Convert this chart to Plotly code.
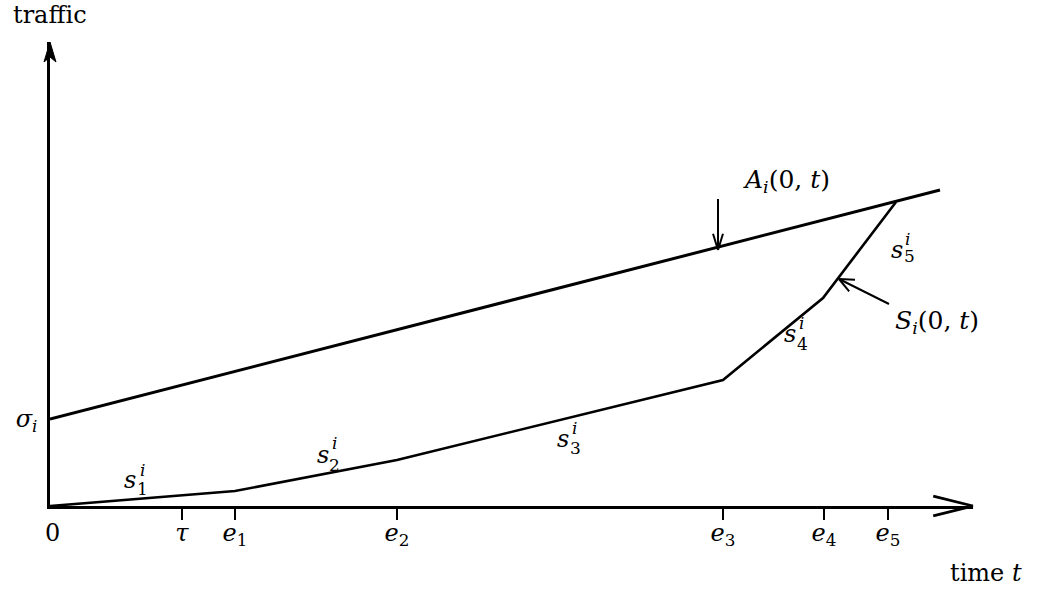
import math
import plotly.graph_objects as go

# ---------------- data (schematic units) ----------------
tick_x = [132, 185, 347, 673, 774, 838]
tick_text = ["<i>τ</i>", "<i>e</i><sub>1</sub>", "<i>e</i><sub>2</sub>",
             "<i>e</i><sub>3</sub>", "<i>e</i><sub>4</sub>", "<i>e</i><sub>5</sub>"]
sigma_i = 87
arrival_t = [0, 890]
arrival_v = [87, 316]
service_t = [0, 185, 347, 673, 773, 846]
service_v = [0, 15, 46, 126, 208, 304]
slope_idx = ["1", "2", "3", "4", "5"]

# ---------------- layout constants ----------------
W, H = 1040, 605
L, R, T, B = 50, 67, 42, 99
PW, PH = W - L - R, H - T - B
X_RANGE = [0, PW]
Y_RANGE = [0, PH]
FONT = "DejaVu Serif"
BLACK = "#000000"


def px2d(px, py):
    return px - L, (H - B) - py


def dx(x):
    return (x - X_RANGE[0]) / (X_RANGE[1] - X_RANGE[0])


def dy(y):
    return (y - Y_RANGE[0]) / (Y_RANGE[1] - Y_RANGE[0])


def px2paper(px, py):
    return (px - L) / PW, ((H - B) - py) / PH


def seg(x0, y0, x1, y1, w=2.0):
    return dict(type="line", xref="x domain", yref="y domain",
                x0=dx(x0), y0=dy(y0), x1=dx(x1), y1=dy(y1),
                line=dict(color=BLACK, width=w), layer="above")


def chevron(tip, frm, length, ang_deg, w=2.0):
    vx, vy = frm[0] - tip[0], frm[1] - tip[1]
    n = math.hypot(vx, vy)
    ux, uy = vx / n, vy / n
    out = []
    for s in (1, -1):
        a = math.radians(ang_deg) * s
        rx = ux * math.cos(a) - uy * math.sin(a)
        ry = ux * math.sin(a) + uy * math.cos(a)
        out.append(seg(tip[0], tip[1], tip[0] + rx * length, tip[1] + ry * length, w))
    return out


fig = go.Figure()
fig.add_trace(go.Scatter(x=arrival_t, y=arrival_v, mode="lines",
                         line=dict(color=BLACK, width=3), hoverinfo="skip"))
fig.add_trace(go.Scatter(x=service_t, y=service_v, mode="lines",
                         line=dict(color=BLACK, width=2.6), hoverinfo="skip"))

shapes = []
# x-axis arrowhead (open, long)
shapes += chevron((PW, 0), (0, 0), 41, 14, 2.8)
# y-axis arrowhead (filled stealth)
ya = [(0, PH), (-6, PH - 20), (0, PH - 15), (6, PH - 20)]
path = "M " + " L ".join(f"{dx(a):.5f},{dy(b):.5f}" for a, b in ya) + " Z"
shapes.append(dict(type="path", xref="x domain", yref="y domain", path=path,
                   fillcolor=BLACK, line=dict(color=BLACK, width=1), layer="above"))
# pointer for A_i(0,t)
a0 = px2d(718, 199)
a1 = px2d(718, 250)
shapes.append(seg(a0[0], a0[1], a1[0], a1[1], 2))
shapes += chevron(a1, a0, 17, 17, 2)
# pointer for S_i(0,t)
s0 = px2d(889, 304)
s1 = px2d(839, 279)
shapes.append(seg(s0[0], s0[1], s1[0], s1[1], 2))
shapes += chevron(s1, s0, 16, 24, 2)

ann = []


def text_px(px, py, txt, size=24, ref="data"):
    if ref == "data":
        x, y = px2d(px, py)
        xr, yr = "x", "y"
    else:
        x, y = px2paper(px, py)
        xr, yr = "paper", "paper"
    ann.append(dict(x=x, y=y, xref=xr, yref=yr, text=txt, showarrow=False,
                    xanchor="center", yanchor="middle",
                    font=dict(family=FONT, size=size, color=BLACK)))


# slope labels s_k^i
s_body_px = [(130, 480), (323, 455), (563, 439), (790, 334), (897, 250)]
s_sub_px = [(142, 489), (334, 465), (575, 448), (802, 344), (909, 256)]
s_sup_px = [(142, 470), (334, 443), (574, 428), (801, 323), (907, 239)]
for k in range(5):
    text_px(*s_body_px[k], "<i>s</i>", 24)
    text_px(*s_sub_px[k], slope_idx[k], 17)
    text_px(*s_sup_px[k], "<i>i</i>", 17)

text_px(786, 181, "<i>A</i><sub><i>i</i></sub>(0, <i>t</i>)", 25)
text_px(937, 322, "<i>S</i><sub><i>i</i></sub>(0, <i>t</i>)", 25)
text_px(52, 533, "0", 24, ref="paper")
text_px(50, 15, "traffic", 24, ref="paper")
text_px(986, 573, "time <i>t</i>", 24, ref="paper")

fig.update_layout(
    width=W, height=H,
    margin=dict(l=L, r=R, t=T, b=B, pad=0),
    paper_bgcolor="white", plot_bgcolor="white",
    showlegend=False, hovermode=False,
    shapes=shapes, annotations=ann,
    xaxis=dict(range=X_RANGE, showgrid=False, zeroline=False,
               showline=True, linecolor=BLACK, linewidth=2.8,
               tickmode="array", tickvals=tick_x, ticktext=tick_text,
               ticks="outside", ticklen=11, tickwidth=2, tickcolor=BLACK,
               ticklabelstandoff=-8,
               tickfont=dict(family=FONT, size=24, color=BLACK),
               fixedrange=True),
    yaxis=dict(range=Y_RANGE, showgrid=False, zeroline=False,
               showline=True, linecolor=BLACK, linewidth=2.8,
               tickmode="array", tickvals=[sigma_i],
               ticktext=["<i>σ</i><sub><i>i</i></sub>"],
               ticks="", ticklabelstandoff=5,
               tickfont=dict(family=FONT, size=24, color=BLACK),
               fixedrange=True),
)

fig.write_html("out.html", config=dict(displayModeBar=False, staticPlot=True),
               post_script="document.body.style.margin='0';")
